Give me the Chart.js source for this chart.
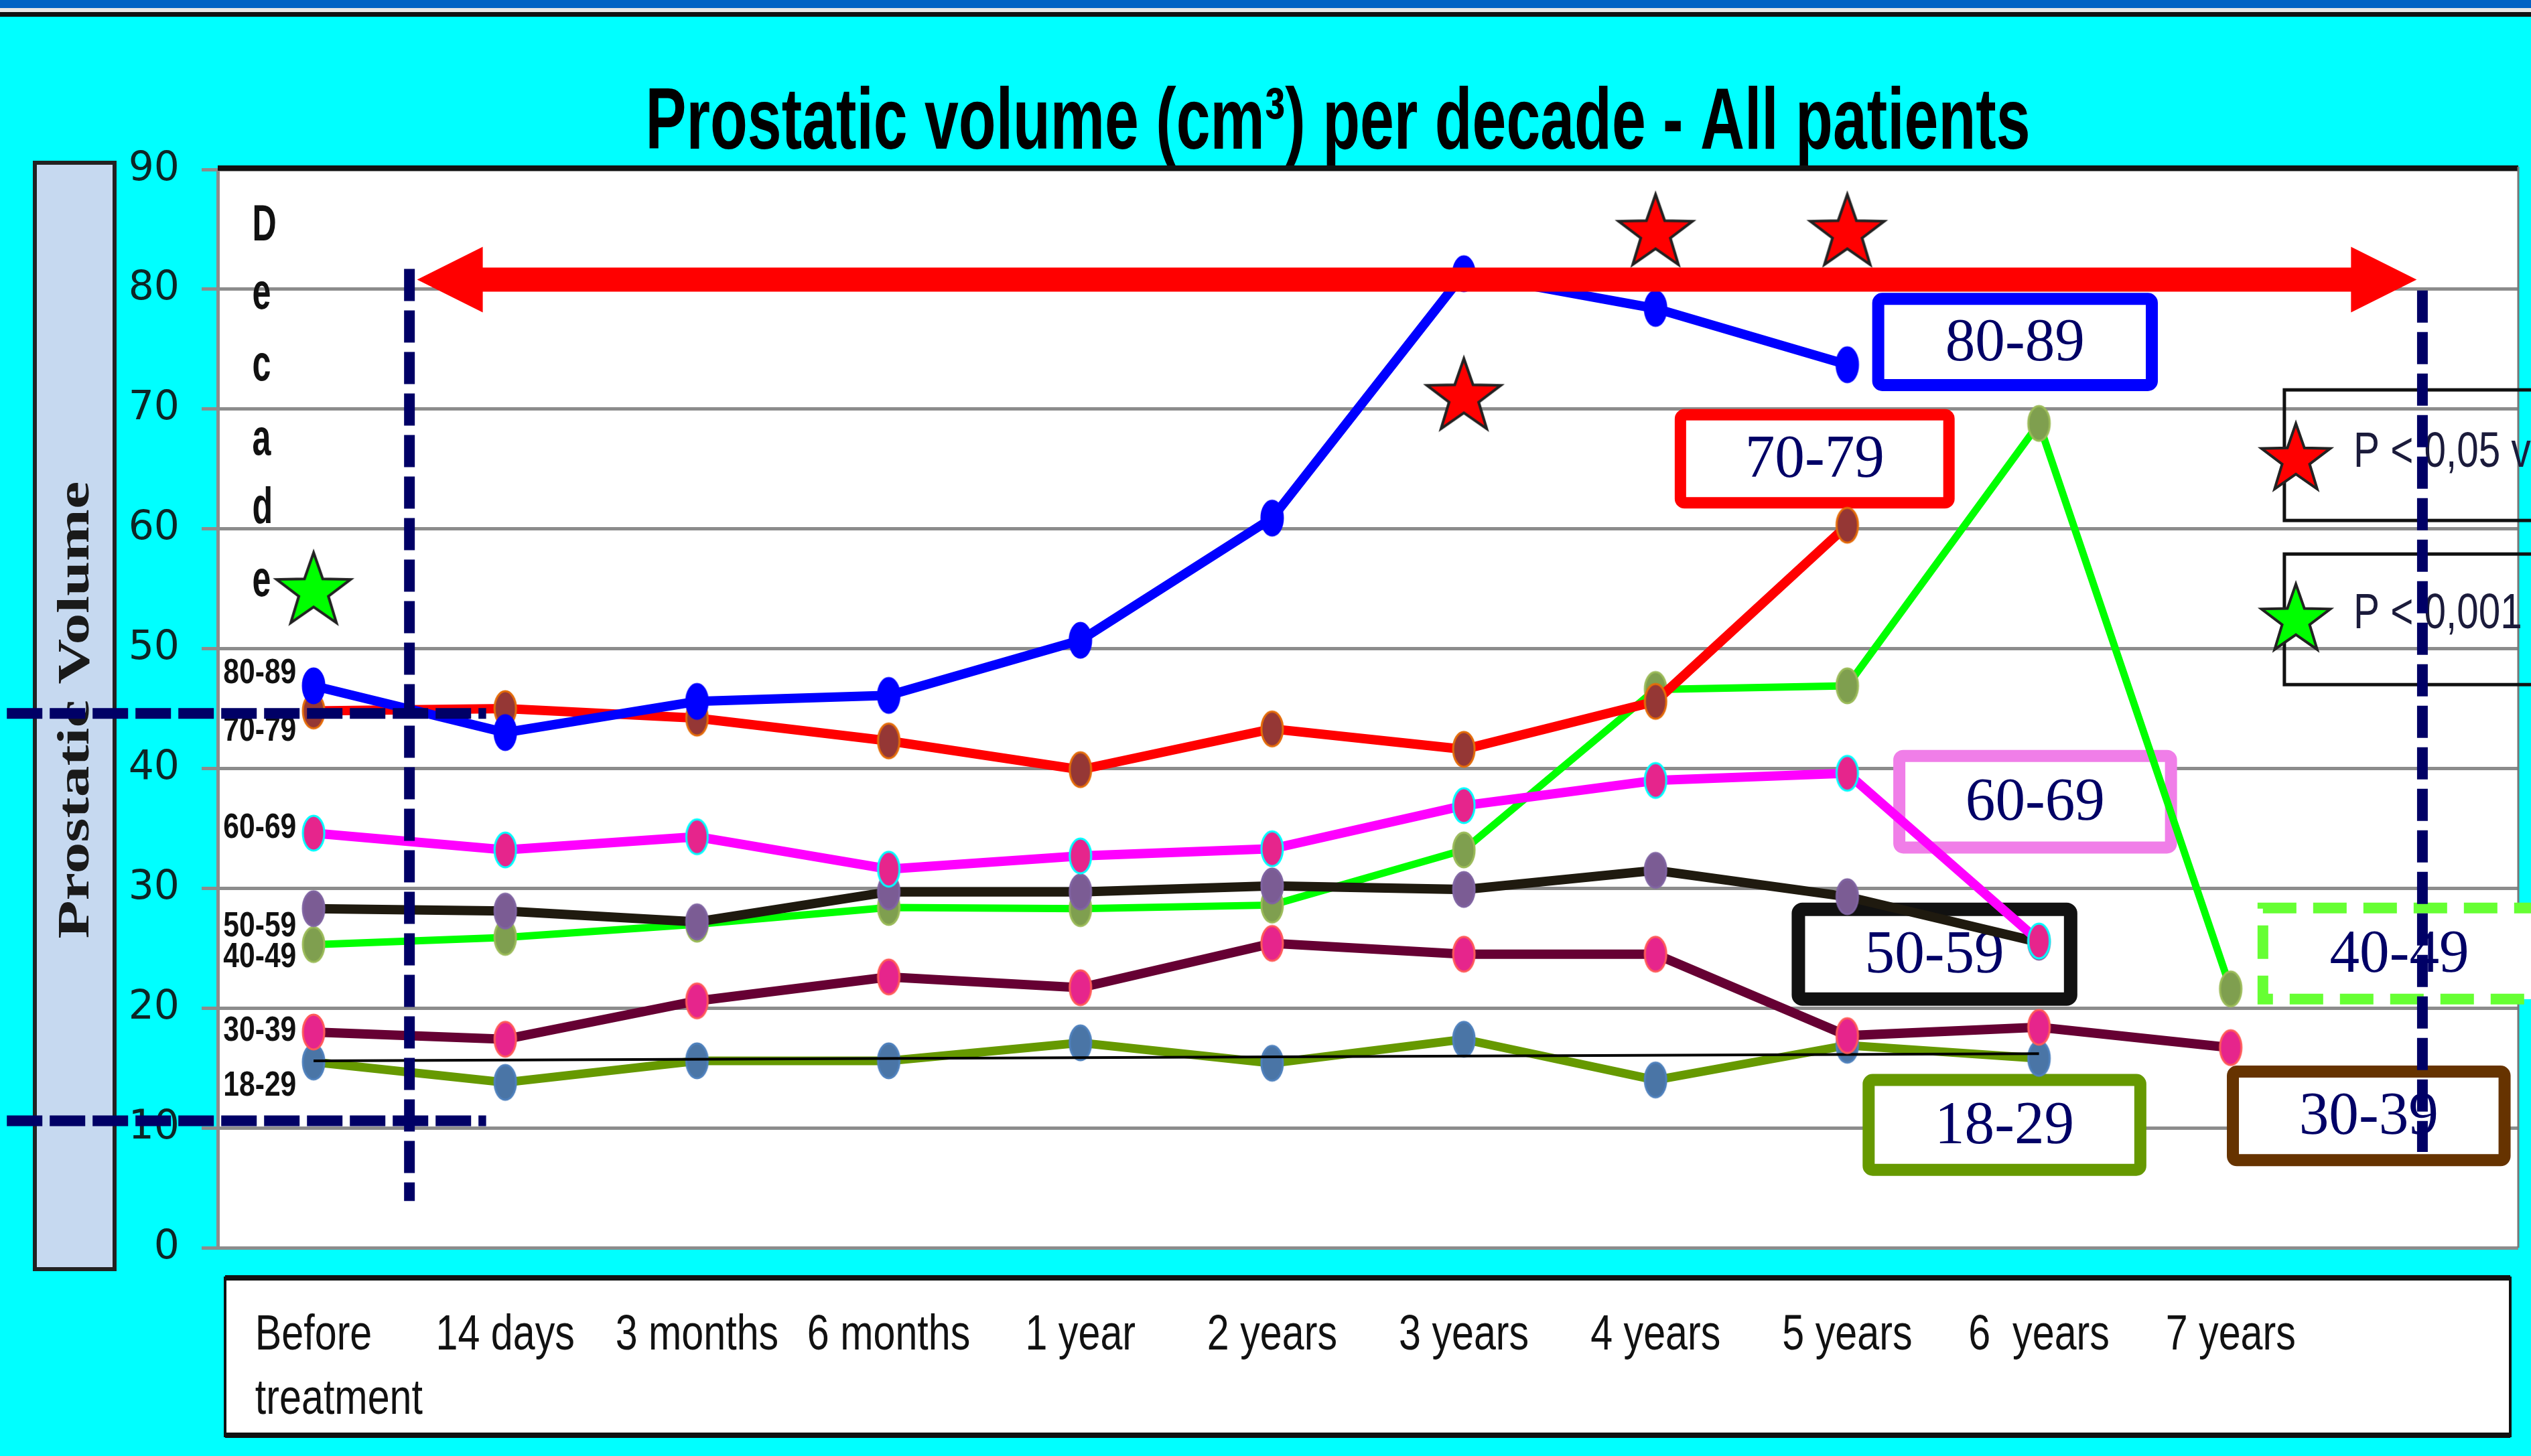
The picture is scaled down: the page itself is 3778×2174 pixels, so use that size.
<!DOCTYPE html>
<html>
<head>
<meta charset="utf-8">
<script src="https://cdn.jsdelivr.net/npm/chart.js@4.4.0/dist/chart.umd.min.js"></script>
<style>
  html, body { margin: 0; padding: 0; background: #00ffff; overflow: hidden; }
  canvas { display: block; }
</style>
</head>
<body>
<canvas id="chart" width="3778" height="2174"></canvas>
<script>
// categories (last slot is empty, it only holds the right-hand guide line)
const labels = [['Before', 'treatment'], '14 days', '3 months', '6 months', '1 year', '2 years',
  '3 years', '4 years', '5 years', '6  years', '7 years', ''];

// prostatic volume per decade (cm3)
const vol80 = [46.9, 43.0, 45.6, 46.1, 50.7, 60.9, 81.3, 78.4, 73.7, null, null, null];
const vol70 = [44.8, 45.0, 44.2, 42.3, 39.9, 43.3, 41.6, 45.6, 60.3, null, null, null];
const vol60 = [34.6, 33.2, 34.3, 31.6, 32.7, 33.3, 36.9, 39.0, 39.6, 25.6, null, null];
const vol50 = [28.3, 28.1, 27.2, 29.7, 29.7, 30.2, 29.9, 31.5, 29.3, 25.5, null, null];
const vol40 = [25.3, 25.9, 27.0, 28.4, 28.3, 28.6, 33.2, 46.6, 46.9, 68.8, 21.6, null];
const vol30 = [18.0, 17.4, 20.6, 22.6, 21.7, 25.4, 24.5, 24.5, 17.7, 18.4, 16.7, null];
const vol18 = [15.5, 13.8, 15.6, 15.6, 17.1, 15.4, 17.4, 14.0, 16.9, 15.8, null, null];
const trend18 = [15.6, null, null, null, null, null, null, null, null, 16.2, null, null];

// significance stars
const redStars = [null, null, null, null, null, null, 71.2, 84.9, 84.9, null, null, null];
const greenStars = [55.0, null, null, null, null, null, null, null, null, null, null, null];

const decadeNames = ['80-89', '70-79', '60-69', '50-59', '40-49', '30-39', '18-29'];
const legendTexts = ['P < 0,05 v', 'P < 0,001 v'];

// ---- marker images ----
function ellipseMarker(fill, edge) {
  const c = document.createElement('canvas');
  c.width = 40; c.height = 58;
  const g = c.getContext('2d');
  g.beginPath();
  g.ellipse(20, 29, 16, 26, 0, 0, Math.PI * 2);
  g.fillStyle = fill; g.fill();
  g.lineWidth = 3; g.strokeStyle = edge; g.stroke();
  return c;
}
function starPath(g, cx, cy, R) {
  const r = R * 0.4;
  g.beginPath();
  for (let i = 0; i < 10; i++) {
    const a = -Math.PI / 2 + i * Math.PI / 5;
    const rad = i % 2 ? r : R;
    g.lineTo(cx + rad * Math.cos(a), cy + rad * Math.sin(a));
  }
  g.closePath();
}
function starMarker(fill) {
  const c = document.createElement('canvas');
  c.width = 124; c.height = 124;
  const g = c.getContext('2d');
  starPath(g, 62, 66, 58);
  g.fillStyle = fill; g.fill();
  g.lineWidth = 4; g.strokeStyle = '#222'; g.lineJoin = 'miter'; g.stroke();
  return c;
}

function series(data, line, marker, width) {
  return {
    data: data, borderColor: line, backgroundColor: line, borderWidth: width,
    pointStyle: marker, pointRadius: 18, tension: 0, spanGaps: false
  };
}

// ---- text helpers ----
function narrowText(ctx, str, x, y, font, sx, color, align, baseline) {
  ctx.save();
  ctx.font = font;
  ctx.fillStyle = color;
  ctx.textAlign = align || 'left';
  ctx.textBaseline = baseline || 'alphabetic';
  ctx.translate(x, y);
  ctx.scale(sx, 1);
  ctx.fillText(str, 0, 0);
  ctx.restore();
}

const tagBoxes = [
  { text: '80-89', x0: 8.13, x1: 9.62, y0: 79.7, y1: 71.5, color: '#0000ff', lw: 18 },
  { text: '70-79', x0: 7.10, x1: 8.56, y0: 70.0, y1: 61.7, color: '#ff0000', lw: 17 },
  { text: '60-69', x0: 8.24, x1: 9.72, y0: 41.55, y1: 32.9, color: '#f07ee8', lw: 18 },
  { text: '50-59', x0: 7.71, x1: 9.20, y0: 28.8, y1: 20.2, color: '#111111', lw: 20 },
  { text: '18-29', x0: 8.08, x1: 9.56, y0: 14.5, y1: 6.0, color: '#669900', lw: 18 },
  { text: '30-39', x0: 9.98, x1: 11.46, y0: 15.2, y1: 6.8, color: '#663300', lw: 18 },
  { text: '40-49', x0: 10.14, x1: 11.95, y0: 28.8, y1: 20.3, color: '#66ff33', lw: 16, dash: [50, 25], tx: 10.88 }
];
const leftTagY = [47.9, 43.1, 35.0, 26.8, 24.2, 18.1, 13.5];
const decadeY = [84.1, 78.4, 72.4, 66.2, 60.5, 54.4];

const decor = {
  id: 'decor',
  beforeDraw(chart) {
    const ctx = chart.ctx, a = chart.chartArea, W = chart.width, H = chart.height;
    ctx.save();
    ctx.fillStyle = '#00ffff'; ctx.fillRect(0, 0, W, H);
    ctx.fillStyle = '#0062c4'; ctx.fillRect(0, 0, W, 12);
    ctx.fillStyle = '#e6e6e6'; ctx.fillRect(0, 12, W, 6);
    ctx.fillStyle = '#111'; ctx.fillRect(0, 18, W, 7);
    // plot background
    ctx.fillStyle = '#ffffff';
    ctx.fillRect(a.left, a.top - 5, a.right - a.left, a.bottom - a.top + 5);
    // y title box
    ctx.fillStyle = '#c6d9f0'; ctx.fillRect(52, 243, 119, 1652);
    ctx.lineWidth = 6; ctx.strokeStyle = '#222'; ctx.strokeRect(52, 243, 119, 1652);
    // x label box
    ctx.fillStyle = '#ffffff'; ctx.fillRect(336, 1908, 3411, 236);
    ctx.lineWidth = 4; ctx.strokeStyle = '#111'; ctx.strokeRect(336, 1908, 3411, 236);
    ctx.fillStyle = '#111'; ctx.fillRect(336, 1904, 3411, 8); ctx.fillRect(336, 2139, 3411, 8);
    ctx.restore();

    // title
    ctx.save();
    ctx.font = 'bold 130px "Liberation Sans", Arial, sans-serif';
    const t = 'Prostatic volume (cm\u00b3) per decade - All patients';
    const sx = 2067 / ctx.measureText(t).width;
    ctx.restore();
    narrowText(ctx, t, 1997, 222, 'bold 130px "Liberation Sans", Arial, sans-serif', sx, '#000', 'center');

    // y title (rotated)
    ctx.save();
    ctx.font = 'bold 68px "Liberation Serif", "Times New Roman", serif';
    const yt = 'Prostatic Volume';
    const sy = 683 / ctx.measureText(yt).width;
    ctx.translate(114, 1060);
    ctx.rotate(-Math.PI / 2);
    ctx.scale(sy, 1);
    ctx.fillStyle = '#1a1a1a';
    ctx.textAlign = 'center';
    ctx.textBaseline = 'middle';
    ctx.fillText(yt, 0, 0);
    ctx.restore();
  },
  beforeDatasetsDraw(chart) {
    const ctx = chart.ctx, a = chart.chartArea;
    const xs = chart.scales.x, ys = chart.scales.y;
    const px = v => xs.getPixelForValue(v), py = v => ys.getPixelForValue(v);
    ctx.save();
    // frame
    ctx.fillStyle = '#111'; ctx.fillRect(a.left, a.top - 6, a.right - a.left, 8);
    ctx.strokeStyle = '#777'; ctx.lineWidth = 3;
    ctx.beginPath(); ctx.moveTo(a.right, a.top - 4); ctx.lineTo(a.right, a.bottom); ctx.stroke();

    // x labels
    const xfont = '74px "Liberation Sans", Arial, sans-serif';
    ctx.font = xfont;
    labels.forEach((lab, i) => {
      const lines = Array.isArray(lab) ? lab : [lab];
      if (!lines[0]) return;
      const w0 = ctx.measureText(lines[0]).width * 0.8;
      const left = px(i) - w0 / 2;
      lines.forEach((ln, j) => narrowText(ctx, ln, left, 1995 + j * 96, xfont, 0.8, '#111', 'left', 'middle'));
    });

    // Decade letters
    'Decade'.split('').forEach((ch, i) =>
      narrowText(ctx, ch, px(-0.32), py(decadeY[i]), 'bold 76px "Liberation Sans", Arial, sans-serif', 0.66, '#111', 'left'));
    // decade tags on the left
    decadeNames.forEach((nm, i) =>
      narrowText(ctx, nm, px(-0.09), py(leftTagY[i]), 'bold 52px "Liberation Sans", Arial, sans-serif', 0.82, '#111', 'right', 'middle'));

    // legend boxes
    const lg = [[71.6, 60.7, '#ff0000', 66.0, 65.2], [57.9, 47.0, '#00ff00', 52.6, 51.7]];
    lg.forEach((b, i) => {
      const X0 = px(10.28), Y0 = py(b[0]), Y1 = py(b[1]);
      ctx.lineWidth = 5; ctx.strokeStyle = '#111';
      ctx.strokeRect(X0, Y0, chart.width + 50 - X0, Y1 - Y0);
      starPath(ctx, px(10.34), py(b[3]) + 4, 54);
      ctx.fillStyle = b[2]; ctx.fill(); ctx.lineWidth = 4; ctx.strokeStyle = '#222'; ctx.stroke();
      narrowText(ctx, legendTexts[i], px(10.64), py(b[4]), '74px "Liberation Sans", Arial, sans-serif', 0.79, '#1b1b3b', 'left');
    });

    // decade tag boxes
    tagBoxes.forEach(b => {
      const X0 = px(b.x0), X1 = px(b.x1), Y0 = py(b.y0), Y1 = py(b.y1), h = b.lw / 2;
      ctx.save();
      ctx.fillStyle = '#fff';
      ctx.fillRect(X0 + h, Y0 + h, X1 - X0 - b.lw, Y1 - Y0 - b.lw);
      ctx.strokeStyle = b.color; ctx.lineWidth = b.lw;
      ctx.setLineDash(b.dash || []);
      ctx.beginPath();
      if (ctx.roundRect && !b.dash) ctx.roundRect(X0 + h, Y0 + h, X1 - X0 - b.lw, Y1 - Y0 - b.lw, 6);
      else ctx.rect(X0 + h, Y0 + h, X1 - X0 - b.lw, Y1 - Y0 - b.lw);
      ctx.stroke();
      ctx.restore();
      const tx = b.tx !== undefined ? px(b.tx) : (X0 + X1) / 2;
      narrowText(ctx, b.text, tx, (Y0 + Y1) / 2 + 3, '92px "Liberation Serif", "Times New Roman", serif', 0.97, '#000066', 'center', 'middle');
    });
    ctx.restore();
  },
  afterDatasetsDraw(chart) {
    const ctx = chart.ctx;
    const xs = chart.scales.x, ys = chart.scales.y;
    const px = v => xs.getPixelForValue(v), py = v => ys.getPixelForValue(v);
    ctx.save();
    // double arrow
    const xa = px(0.54), xb = px(10.97), y = py(80.8), sh = 18, hl = 98, hh = 49;
    ctx.fillStyle = '#ff0000';
    ctx.beginPath();
    ctx.moveTo(xa, y);
    ctx.lineTo(xa + hl, y - hh); ctx.lineTo(xa + hl, y - sh);
    ctx.lineTo(xb - hl, y - sh); ctx.lineTo(xb - hl, y - hh);
    ctx.lineTo(xb, y);
    ctx.lineTo(xb - hl, y + hh); ctx.lineTo(xb - hl, y + sh);
    ctx.lineTo(xa + hl, y + sh); ctx.lineTo(xa + hl, y + hh);
    ctx.closePath(); ctx.fill();

    // dashed guide lines
    ctx.strokeStyle = '#000066'; ctx.lineWidth = 16; ctx.lineCap = 'butt';
    ctx.setLineDash([48, 14]);
    [[0.5, 81.7, 3.9], [11.0, 79.9, 8.0]].forEach(l => {
      ctx.beginPath(); ctx.moveTo(px(l[0]), py(l[1])); ctx.lineTo(px(l[0]), py(l[2])); ctx.stroke();
    });
    ctx.setLineDash([53, 11]);
    [44.6, 10.6].forEach(v => {
      ctx.beginPath(); ctx.moveTo(px(-1.6), py(v)); ctx.lineTo(px(0.9), py(v)); ctx.stroke();
    });
    ctx.restore();
  }
};

const ctx = document.getElementById('chart').getContext('2d');
const chart = new Chart(ctx, {
  type: 'line',
  data: {
    labels: labels,
    datasets: [
      { data: redStars, showLine: false, pointStyle: starMarker('#ff0000'), pointRadius: 10 },
      { data: greenStars, showLine: false, pointStyle: starMarker('#00ff00'), pointRadius: 10 },
      series(vol80, '#0000ff', ellipseMarker('#0000ff', '#0000ff'), 14),
      series(vol70, '#ff0000', ellipseMarker('#953735', '#e46c0a'), 14),
      series(vol60, '#ff00ff', ellipseMarker('#e6258c', '#00ffff'), 14),
      series(vol50, '#1f1a0f', ellipseMarker('#7b5c94', '#8064a2'), 14),
      series(vol40, '#00ff00', ellipseMarker('#7f9f4f', '#9bbb59'), 11),
      series(vol30, '#660033', ellipseMarker('#e6258c', '#ff5a5a'), 14),
      { data: trend18, borderColor: '#000000', borderWidth: 4, pointRadius: 0, spanGaps: true },
      series(vol18, '#669900', ellipseMarker('#4a75a6', '#4f81bd'), 13)
    ]
  },
  options: {
    responsive: false,
    devicePixelRatio: 1,
    animation: false,
    events: [],
    layout: { autoPadding: false, padding: { left: 0, right: 19, top: 253, bottom: 0 } },
    plugins: {
      legend: { display: false },
      tooltip: { enabled: false },
      title: { display: false }
    },
    scales: {
      x: {
        offset: true,
        grid: { display: false },
        border: { display: false },
        ticks: { display: false },
        afterFit: s => { s.height = 311; }
      },
      y: {
        min: 0,
        max: 90,
        ticks: {
          stepSize: 10,
          padding: 33,
          color: '#0d2626',
          font: { family: '"DejaVu Sans", Verdana, sans-serif', size: 60 }
        },
        grid: { color: '#8c8c8c', lineWidth: 5, tickLength: 24 },
        border: { display: true, color: '#8c8c8c', width: 5 },
        afterFit: s => { s.width = 325; }
      }
    }
  },
  plugins: [decor]
});
</script>
</body>
</html>
